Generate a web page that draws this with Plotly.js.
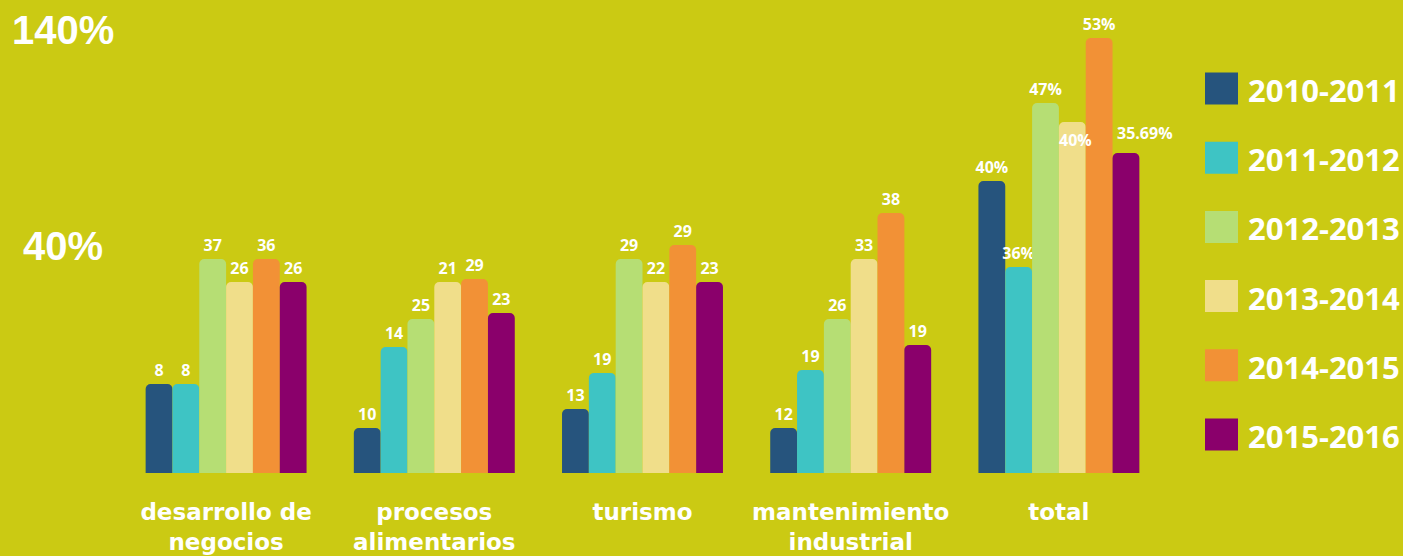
<!DOCTYPE html>
<html>
<head>
<meta charset="utf-8">
<script src="https://cdn.plot.ly/plotly-3.0.1.min.js"></script>
<style>
  html, body { margin: 0; padding: 0; background: #cbca13; }
  #chart { width: 1403px; height: 556px; }
</style>
</head>
<body>
<div id="chart"></div>
<script>
// Categories (x axis)
const categories = ['desarrollo de<br>negocios', 'procesos<br>alimentarios', 'turismo', 'mantenimiento<br>industrial', 'total'];

// Series names
const seriesNames = ['2010-2011', '2011-2012', '2012-2013', '2013-2014', '2014-2015', '2015-2016'];

// Drawn bar heights (infographic scale)
const h2010 = [89, 45, 64, 45, 292];
const h2011 = [89, 126, 100, 103, 206];
const h2012 = [214, 154, 214, 154, 370];
const h2013 = [191, 191, 191, 214, 351];
const h2014 = [214, 194, 228, 260, 435];
const h2015 = [191, 160, 191, 128, 320];

// Value labels shown on the bars
const l2010 = ['8', '10', '13', '12', '40%'];
const l2011 = ['8', '14', '19', '19', '36%'];
const l2012 = ['37', '25', '29', '26', '47%'];
const l2013 = ['26', '21', '22', '33', '40%'];
const l2014 = ['36', '29', '29', '38', '53%'];
const l2015 = ['26', '23', '23', '19', '35.69%'];

// Y axis labels and the levels where they sit (same infographic scale)
const yTickLabels = ['0%', '40%', '140%'];
const yTickLevels = [-7, 227, 443];

// Series colours
const colors = ['#26547d', '#3ec4c4', '#b6de74', '#f0de8a', '#f29136', '#8a006b'];

const heights = [h2010, h2011, h2012, h2013, h2014, h2015];
const labels = [l2010, l2011, l2012, l2013, l2014, l2015];

// Labels placed apart from the default "above the bar" spot:
// [series, category, anchor, extra x shift px, y shift px]
const specialLabels = [
  [3, 4, 'top', 3, -5],
  [5, 4, 'bottom', 19, 7]
];

const bargap = 0.227;
const plotW = 1041;
const plotH = 473;
const nSeries = seriesNames.length;
const barPx = (1 - bargap) * (plotW / categories.length) / nSeries;

const valueFont = { family: 'Open Sans', size: 16, color: '#ffffff', weight: 700 };

const isSpecial = (s, i) => specialLabels.find(p => p[0] === s && p[1] === i);

const traces = heights.map((h, s) => ({
  type: 'bar',
  name: seriesNames[s],
  x: categories,
  y: h,
  text: labels[s].map((t, i) => isSpecial(s, i) ? '' : t),
  textposition: 'outside',
  textangle: 0,
  constraintext: 'none',
  textfont: valueFont,
  outsidetextfont: valueFont,
  cliponaxis: false,
  hovertext: labels[s],
  hoverinfo: 'name+text',
  marker: { color: colors[s], cornerradius: 5, line: { width: 0 } },
  showlegend: false
}));

const annotations = [];
const shapes = [];

// Special value labels
specialLabels.forEach(([s, i, anchor, dx, dy]) => {
  annotations.push({
    xref: 'x', yref: 'y', x: categories[i], y: heights[s][i],
    xanchor: 'center', yanchor: anchor, showarrow: false,
    xshift: (s - (nSeries - 1) / 2) * barPx + dx, yshift: dy,
    text: labels[s][i], font: valueFont
  });
});

// Y axis labels
yTickLabels.forEach((t, i) => {
  annotations.push({
    xref: 'paper', yref: 'y', x: -0.0567, y: yTickLevels[i],
    xanchor: 'center', yanchor: 'middle', showarrow: false,
    text: t,
    font: { family: 'Liberation Sans', size: 40, color: '#ffffff', weight: 700 }
  });
});

// Custom legend (large squares)
seriesNames.forEach((n, i) => {
  const yc = 88.5 + i * 69.2;
  shapes.push({
    type: 'rect', xref: 'paper', yref: 'paper',
    x0: (1205 - 122) / plotW, x1: (1238 - 122) / plotW,
    y0: (plotH - (yc + 16)) / plotH, y1: (plotH - (yc - 16)) / plotH,
    fillcolor: colors[i], line: { width: 0 }
  });
  annotations.push({
    xref: 'paper', yref: 'paper',
    x: (1246 - 122) / plotW, y: (plotH - (yc + 1.5)) / plotH,
    xanchor: 'left', yanchor: 'middle', showarrow: false,
    text: n,
    font: { family: 'Open Sans', size: 31, color: '#ffffff', weight: 700 }
  });
});

const layout = {
  width: 1403, height: 556,
  margin: { l: 122, r: 240, t: 0, b: 83, pad: 0 },
  paper_bgcolor: '#cbca13',
  plot_bgcolor: '#cbca13',
  barmode: 'group',
  bargap: bargap,
  bargroupgap: 0,
  showlegend: false,
  xaxis: {
    type: 'category',
    range: [-0.5, 4.5],
    showgrid: false, zeroline: false, showline: false, ticks: '',
    ticklabelstandoff: 23,
    tickfont: { family: 'DejaVu Sans', size: 23, color: '#ffffff', weight: 700 },
    fixedrange: true
  },
  yaxis: {
    range: [0, plotH],
    visible: false,
    fixedrange: true
  },
  annotations: annotations,
  shapes: shapes
};

Plotly.newPlot('chart', traces, layout, { displayModeBar: false, responsive: false });
</script>
</body>
</html>
